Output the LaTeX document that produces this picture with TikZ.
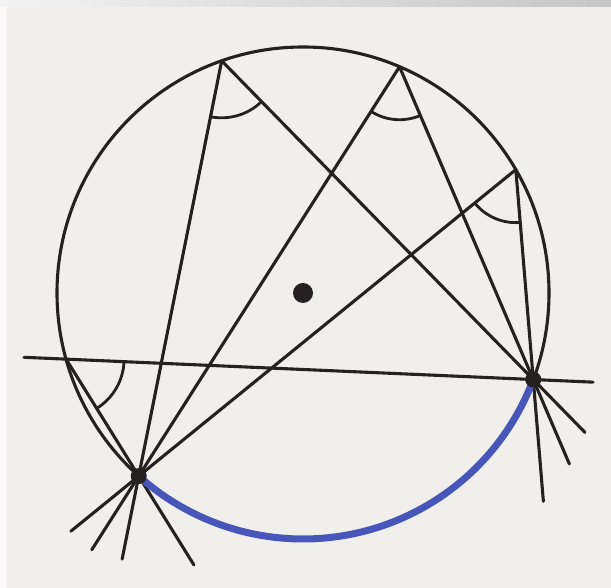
\documentclass[tikz,border=0pt]{standalone}
\usetikzlibrary{calc,angles}
\definecolor{bgc}{RGB}{241,239,235}
\definecolor{ink}{RGB}{38,33,33}
\definecolor{arcblue}{RGB}{72,86,186}
\begin{document}
\begin{tikzpicture}[x=1pt,y=1pt,
  ln/.style={draw=ink,line width=3.1pt,line cap=round},
  anglemark/.style={draw=ink,line width=2.8pt}]
\useasboundingbox (0,0) rectangle (611,588);
\fill[bgc] (0,0) rectangle (611,588);
\shade[left color=gray!10, right color=gray!45] (0,581) rectangle (611,588);
\fill[white!70!bgc] (0,0) rectangle (7,581);
% geometry
\coordinate (O) at (303,295);
\def\R{246}
\coordinate (A) at ($(O)+(109.3:\R)$);
\coordinate (B) at ($(O)+(66.9:\R)$);
\coordinate (C) at ($(O)+(30.1:\R)$);
\coordinate (D) at ($(O)+(195.6:\R)$);
\coordinate (P1) at ($(O)+(228.1:\R)$);
\coordinate (P2) at ($(O)+(339.4:\R)$);
% circle
\draw[ln] (O) circle[radius=\R];
% secant through D and P2
\draw[ln] ($(D)!-0.09!(P2)$) -- ($(D)!1.128!(P2)$);
% chords to P1 and P2, extended
\draw[ln] (A) -- ($(A)!1.2!(P1)$);
\draw[ln] (B) -- ($(B)!1.18!(P1)$);
\draw[ln] (C) -- ($(C)!1.18!(P1)$);
\draw[ln] (D) -- ($(D)!1.76!(P1)$);
\draw[ln] (A) -- ($(A)!1.166!(P2)$);
\draw[ln] (B) -- ($(B)!1.27!(P2)$);
\draw[ln] (C) -- ($(C)!1.58!(P2)$);
% blue arc
\draw[draw=arcblue,line width=7pt,line cap=round] (P1) arc[start angle=228.1,end angle=339.4,radius=\R];
% angle marks
\pic[anglemark,angle radius=57] {angle=P1--A--P2};
\pic[anglemark,angle radius=53] {angle=P1--B--P2};
\pic[anglemark,angle radius=53] {angle=P1--C--P2};
\pic[anglemark,angle radius=58] {angle=P1--D--P2};
% points
\fill[ink] (O) circle[radius=10];
\fill[ink] (P1) circle[radius=8];
\fill[ink] (P2) circle[radius=8];
\end{tikzpicture}
\end{document}
